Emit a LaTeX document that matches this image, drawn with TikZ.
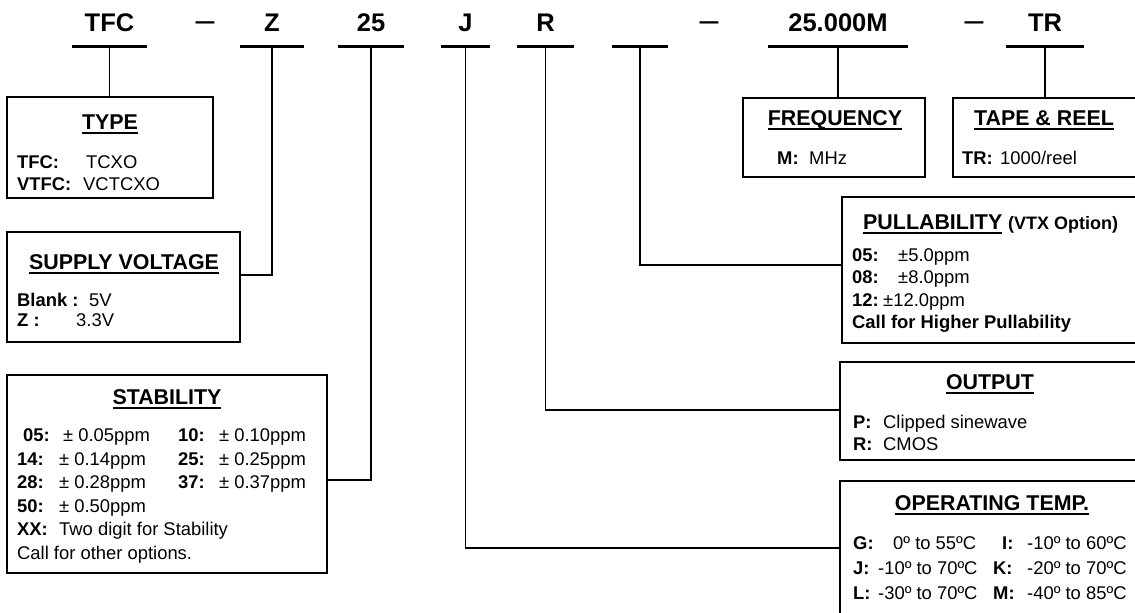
\documentclass[tikz,border=0pt]{standalone}
\usepackage{fontspec}
\setmainfont{Liberation Sans}
\newcommand{\hul}[1]{\setbox0=\hbox{#1}\rlap{\rule[-4.4pt]{\wd0}{2.2pt}}\box0\relax}
\tikzset{
  partno/.style={font=\fontsize{25.5}{28}\selectfont\bfseries,anchor=base,inner sep=0pt},
  partdash/.style={font=\fontsize{34}{34}\selectfont,anchor=base,inner sep=0pt},
  partline/.style={line width=3pt},
  link/.style={line width=1.3pt},
  optbox/.style={draw,line width=2.6pt,inner sep=0pt},
  boxhead/.style={font=\fontsize{21.4}{24}\selectfont\bfseries,anchor=base,inner sep=0pt},
  optkey/.style={font=\fontsize{18.4}{20}\selectfont\bfseries,anchor=base west,inner sep=0pt},
  optval/.style={font=\fontsize{18.4}{20}\selectfont,anchor=base west,inner sep=0pt}
}

\begin{document}
\begin{tikzpicture}[x=1pt,y=-1pt]
  \useasboundingbox (0,0) rectangle (1135,613);
  \clip (0,0) rectangle (1135,613);
  % part number
  \node[partno] (ptfc) at (109.5,31) {TFC};
  \node[partdash] (dasha) at (205,31) {–};
  \node[partno] (pz) at (272,31) {Z};
  \node[partno] (pstab) at (371,31) {25};
  \node[partno] (pj) at (465.5,31) {J};
  \node[partno] (pr) at (545.5,31) {R};
  \node[partdash] (dashb) at (709,31) {–};
  \node[partno] (pfreq) at (838,31) {25.000M};
  \node[partdash] (dashc) at (974,31) {–};
  \node[partno] (ptr) at (1045,31) {TR};
  \foreach \a/\b/\n in {72/147/tfc,240/304/z,338/404/stab,441/490/j,517/574/r,612/668/pull,768/908/freq,1006/1084/tr}
    \draw[partline] (\a,46) -- (\b,46) coordinate[midway] (ul\n);

  % option boxes
  \node[optbox,minimum width=206pt,minimum height=101pt] (typebox) at (110,147.5) {};
  \node[optbox,minimum width=233pt,minimum height=110pt] (supplybox) at (123.5,287) {};
  \node[optbox,minimum width=320pt,minimum height=198pt] (stabbox) at (167,474) {};
  \node[optbox,minimum width=182pt,minimum height=79pt] (freqbox) at (834,137.5) {};
  \node[optbox,minimum width=207pt,minimum height=79pt] (tapebox) at (1056.5,137.5) {};
  \node[optbox,minimum width=318pt,minimum height=146pt] (pullbox) at (1001,270) {};
  \node[optbox,minimum width=320pt,minimum height=98pt] (outbox) at (1000,411) {};
  \node[optbox,minimum width=320pt,minimum height=159pt] (tempbox) at (1000,560.5) {};

  % leaders
  \draw[link] (ultfc) -- (ultfc |- typebox.north);
  \draw[link] (ulz) |- ([yshift=12pt]supplybox.east);
  \draw[link] (ulstab) |- ([yshift=-6pt]stabbox.east);
  \draw[link] (ulj) |- ([yshift=12.5pt]tempbox.west);
  \draw[link] (ulr) |- ([yshift=1pt]outbox.west);
  \draw[link] (ulpull) |- ([yshift=5pt]pullbox.west);
  \draw[link] (ulfreq) -- (ulfreq |- freqbox.north);
  \draw[link] (ultr) -- (ultr |- tapebox.north);

  % type
  \node[boxhead] (typehd) at (110,129.5) {\hul{TYPE}};
  \node[optkey] (typek1) at (17,168) {TFC:};
  \node[optval] (typev1) at (86,168) {TCXO};
  \node[optkey] (typek2) at (17,190) {VTFC:};
  \node[optval] (typev2) at (83,190) {VCTCXO};

  % supply voltage
  \node[boxhead] (supplyhd) at (124,269.5) {\hul{SUPPLY VOLTAGE}};
  \node[optkey] (supplyk1) at (17,306.5) {Blank :};
  \node[optval] (supplyv1) at (89,306.5) {5V};
  \node[optkey] (supplyk2) at (17,326.5) {Z :};
  \node[optval] (supplyv2) at (76,326.5) {3.3V};

  % stability
  \node[boxhead] (stabhd) at (167,404.5) {\hul{STABILITY}};
  \foreach \k/\v/\kx/\vx/\yy [count=\i] in {05:/0.05/23/63/441.5,14:/0.14/17/59/465,28:/0.28/17/59/488.5,50:/0.50/17/59/512} {
    \node[optkey] (stabk\i) at (\kx,\yy) {\k};
    \node[optval] (stabv\i) at (\vx,\yy) {± \v ppm};
  }
  \foreach \k/\v/\yy [count=\i] in {10:/0.10/441.5,25:/0.25/465,37:/0.37/488.5} {
    \node[optkey] (stabkk\i) at (178,\yy) {\k};
    \node[optval] (stabvv\i) at (219,\yy) {± \v ppm};
  }
  \node[optkey] (stabk5) at (17,535.5) {XX:};
  \node[optval] (stabv5) at (59,535.5) {Two digit for Stability};
  \node[optval] (stabcall) at (17,559) {Call for other options.};

  % frequency, tape & reel
  \node[boxhead] (freqhd) at (835,125.5) {\hul{FREQUENCY}};
  \node[optkey] (freqk) at (777,164.5) {M:};
  \node[optval] (freqv) at (809,164.5) {MHz};
  \node[boxhead] (tapehd) at (1044,125.5) {\hul{TAPE \& REEL}};
  \node[optkey] (tapek) at (962,164.5) {TR:};
  \node[optval] (tapev) at (1000,164.5) {1000/reel};

  % pullability
  \node[boxhead,anchor=base west] (pullhd) at (863,229.5) {\hul{PULLABILITY} {\fontsize{18}{20}\selectfont (VTX Option)}};
  \foreach \k/\v/\vx/\yy [count=\i] in {05:/±5.0ppm/898/261.5,08:/±8.0ppm/898/283.8,12:/±12.0ppm/883/306.1} {
    \node[optkey] (pullk\i) at (852,\yy) {\k};
    \node[optval] (pullv\i) at (\vx,\yy) {\v};
  }
  \node[optkey] (pullcall) at (852,328.4) {Call for Higher Pullability};

  % output
  \node[boxhead] (outhd) at (990,389.5) {\hul{OUTPUT}};
  \node[optkey] (outk1) at (853,428) {P:};
  \node[optval] (outv1) at (883,428) {Clipped sinewave};
  \node[optkey] (outk2) at (853,450) {R:};
  \node[optval] (outv2) at (883,450) {CMOS};

  % operating temperature
  \node[boxhead] (temphd) at (992,510.5) {\hul{OPERATING TEMP.}};
  \foreach \k/\v/\vx/\yy [count=\i] in {G:/0º to 55ºC/893/549.5,J:/-10º to 70ºC/878/574.5,L:/-30º to 70ºC/878/599.5} {
    \node[optkey] (tempk\i) at (853,\yy) {\k};
    \node[optval] (tempv\i) at (\vx,\yy) {\v};
  }
  \foreach \k/\v/\kx/\yy [count=\i] in {I:/-10º to 60ºC/1002/549.5,K:/-20º to 70ºC/993/574.5,M:/-40º to 85ºC/993/599.5} {
    \node[optkey] (tempkk\i) at (\kx,\yy) {\k};
    \node[optval] (tempvv\i) at (1027,\yy) {\v};
  }
\end{tikzpicture}
\end{document}
